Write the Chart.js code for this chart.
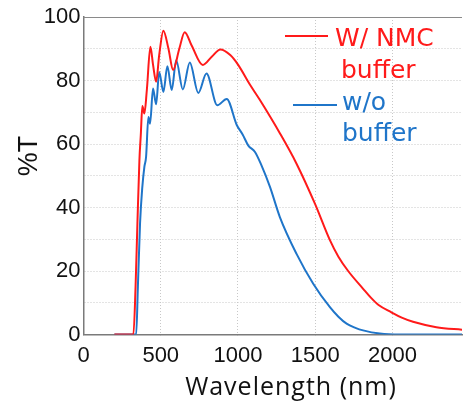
<!DOCTYPE html>
<html>
<head>
<meta charset="utf-8">
<script src="https://cdn.jsdelivr.net/npm/chart.js@4.4.1/dist/chart.umd.min.js"></script>
<style>
  html, body { margin: 0; padding: 0; background: #fff; }
  #wrap { width: 463px; height: 406px; }
</style>
</head>
<body>
<div id="wrap"><canvas id="chart"></canvas></div>
<script>
// Transmittance spectra (wavelength in nm, %T)
const nmcWavelengths = [200, 323, 337, 349, 362, 371, 381, 394, 410, 433, 450, 470, 490, 517, 550, 580, 620, 655, 700, 772, 830, 886, 950, 1000, 1080, 1140, 1271, 1379, 1498, 1595, 1650, 1713, 1810, 1860, 1910, 1993, 2060, 2133, 2284, 2455];
const nmcT = [0, 0, 15, 35, 55, 63, 72, 69.6, 77, 90.6, 85, 79.6, 88, 95.7, 90, 83.3, 90, 95.2, 91, 84.9, 87.5, 89.8, 88, 85, 78.5, 74, 63.4, 53.8, 41.2, 29.7, 24.5, 20, 14.4, 11.6, 9.3, 7.0, 5.3, 4.0, 2.3, 1.5];

const bareWavelengths = [200, 341, 352, 366, 380, 394, 405, 420, 431, 450, 470, 490, 517, 543, 571, 600, 643, 688, 743, 796, 866, 927, 992, 1030, 1067, 1110, 1150, 1207, 1271, 1379, 1487, 1595, 1650, 1703, 1760, 1810, 1918, 2050, 2455];
const bareT = [0, 0, 15, 35, 46, 52.8, 55.9, 68.5, 66.4, 77.5, 72.5, 82.7, 76.4, 84.5, 77, 86.4, 77.2, 85.7, 76.1, 82.2, 72.2, 74.2, 66, 63, 59.5, 57.5, 53.5, 46.5, 37, 25.4, 16, 8.6, 5.6, 3.4, 2.1, 1.3, 0.3, 0, 0];

const seriesNames = ["W/ NMC buffer", "w/o buffer"];
const legendLines = [["W/ NMC", "buffer"], ["w/o", "buffer"]];
const seriesColors = ["#ff1a1a", "#1f75c9"];

const xTickValues = [0, 500, 1000, 1500, 2000];
const yTickValues = [0, 10, 20, 30, 40, 50, 60, 70, 80, 90, 100];

const xTitle = "Wavelength (nm)";
const yTitle = "%T";

const zip = (xs, ys) => xs.map((x, i) => ({ x: x, y: ys[i] }));

// axis titles sit off-centre in the original, and the legend is free text,
// so both are painted here instead of using the built-in title/legend
const annotatePlugin = {
  id: "annotate",
  afterDraw(chart) {
    const ctx = chart.ctx;
    const area = chart.chartArea;
    ctx.save();

    // top frame line
    ctx.strokeStyle = "#8a8a8a";
    ctx.lineWidth = 1;
    ctx.beginPath();
    ctx.moveTo(area.left, area.top + 0.5);
    ctx.lineTo(area.right, area.top + 0.5);
    ctx.stroke();

    // legend
    const rows = [
      { lineX: [285, 328], lineY: 36, textX: 335, ys: [39, 71], indent: [0, 6] },
      { lineX: [293, 337], lineY: 105, textX: 342, ys: [103, 134], indent: [0, 0] },
    ];
    ctx.font = "25px 'DejaVu Sans'";
    ctx.textBaseline = "middle";
    ctx.textAlign = "left";
    rows.forEach((r, i) => {
      ctx.strokeStyle = seriesColors[i];
      ctx.fillStyle = seriesColors[i];
      ctx.lineWidth = 2;
      ctx.beginPath();
      ctx.moveTo(r.lineX[0], r.lineY);
      ctx.lineTo(r.lineX[1], r.lineY);
      ctx.stroke();
      legendLines[i].forEach((txt, j) => {
        ctx.fillText(txt, r.textX + r.indent[j], r.ys[j]);
      });
    });

    // axis titles
    ctx.fillStyle = "#111";
    ctx.font = "25px 'Open Sans'";
    ctx.letterSpacing = "1px";
    ctx.textAlign = "center";
    ctx.fillText(xTitle, 291, 388);
    ctx.letterSpacing = "0px";

    ctx.translate(30, 156);
    ctx.rotate(-Math.PI / 2);
    ctx.font = "27px 'Liberation Sans'";
    ctx.fillText(yTitle, 0, 0);
    ctx.restore();
  },
};

const gridStyle = {
  color: "#c8c8c8",
  lineWidth: 1,
  tickLength: 0,
};

new Chart(document.getElementById("chart"), {
  type: "line",
  data: {
    datasets: [
      {
        label: seriesNames[0],
        data: zip(nmcWavelengths, nmcT),
        borderColor: seriesColors[0],
        borderWidth: 2,
        pointRadius: 0,
        cubicInterpolationMode: "monotone",
      },
      {
        label: seriesNames[1],
        data: zip(bareWavelengths, bareT),
        borderColor: seriesColors[1],
        borderWidth: 2,
        pointRadius: 0,
        cubicInterpolationMode: "monotone",
      },
    ],
  },
  options: {
    responsive: true,
    maintainAspectRatio: false,
    animation: false,
    layout: { padding: { top: 17, right: 1, left: 0, bottom: 0 } },
    scales: {
      x: {
        type: "linear",
        min: 0,
        max: 2450,
        grid: gridStyle,
        border: { color: "#7a7a7a", width: 1.5, dash: [1, 2] },
        afterBuildTicks: (s) => { s.ticks = xTickValues.map((v) => ({ value: v })); },
        ticks: {
          autoSkip: false,
          maxRotation: 0,
          padding: 8,
          color: "#111",
          font: { family: "'Liberation Sans'", size: 22 },
          callback: (v) => String(v),
        },
        afterFit: (s) => { s.height = 71.5; },
      },
      y: {
        min: 0,
        max: 100,
        grid: gridStyle,
        border: { color: "#7a7a7a", width: 1.5, dash: [1, 2] },
        afterBuildTicks: (s) => { s.ticks = yTickValues.map((v) => ({ value: v })); },
        ticks: {
          autoSkip: false,
          padding: 3,
          color: "#111",
          font: { family: "'Liberation Sans'", size: 22 },
          callback: (v) => (v % 20 === 0 ? String(v) : ""),
        },
        afterFit: (s) => { s.width = 83.5; },
      },
    },
    plugins: {
      legend: { display: false },
      tooltip: { enabled: false },
    },
  },
  plugins: [annotatePlugin],
});
</script>
</body>
</html>
